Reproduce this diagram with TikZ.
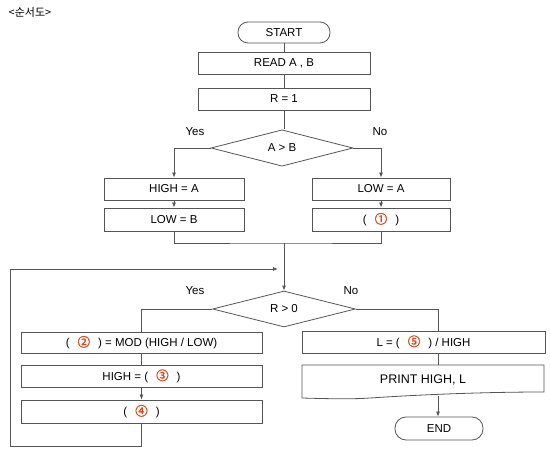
\documentclass[tikz,border=0pt]{standalone}
\usepackage{fontspec}
\setmainfont{Liberation Sans}
\newfontfamily\krfont{Noto Sans CJK KR}
\newfontfamily\numfont[AutoFakeBold=1.5]{Noto Sans CJK KR}
\usetikzlibrary{shapes.geometric,arrows.meta}
\definecolor{ln}{HTML}{555555}
\definecolor{num}{HTML}{E0461E}
\newcommand{\cnum}[1]{{\numfont\bfseries\fontsize{12.5}{13}\selectfont\color{num}#1}}
\tikzset{
  box/.style={draw=ln, line width=0.8pt, rectangle, inner sep=0pt, font=\fontsize{11.5}{13}\selectfont},
  term/.style={box, rounded corners=10pt},
  dec/.style={draw=ln, line width=0.8pt, diamond, inner sep=0pt, font=\fontsize{11.5}{13}\selectfont},
  lbl/.style={font=\fontsize{11.5}{13}\selectfont, inner sep=0pt},
  conn/.style={draw=ln, line width=0.8pt},
  arr/.style={conn, -{Latex[length=5pt,width=4pt]}}
}
\begin{document}
\begin{tikzpicture}[x=1pt,y=-1pt]
\useasboundingbox (0,0) rectangle (550,449);
\node[font=\krfont\fontsize{11}{12}\selectfont, inner sep=0pt] (title) at (30,12) {<순서도>};
\node[term, minimum width=92pt, minimum height=21pt] (start) at (284,32.5) {START};
\node[box, minimum width=172pt, minimum height=22pt] (read) at (284,63) {READ A , B};
\node[box, minimum width=172pt, minimum height=22pt] (r1) at (284,99) {R = 1};
\node[dec, minimum width=142pt, minimum height=35pt] (d1) at (282,148) {A > B};
\node[box, minimum width=140pt, minimum height=22pt] (higha) at (174,189) {HIGH = A};
\node[box, minimum width=140pt, minimum height=23pt] (lowb) at (174,219.5) {LOW = B};
\node[box, minimum width=138pt, minimum height=22pt] (lowa) at (381,189) {LOW = A};
\node[box, minimum width=138pt, minimum height=23pt] (c1) at (381,219.5) {(\hspace{8pt}\cnum{①}\hspace{8pt})};
\node[lbl] (yes1) at (195,132) {Yes};
\node[lbl] (no1) at (380,132) {No};
\node[dec, minimum width=143pt, minimum height=34pt] (d2) at (284,309) {R > 0};
\node[lbl] (yes2) at (195,291) {Yes};
\node[lbl] (no2) at (351,291) {No};
\node[box, minimum width=241pt, minimum height=21pt] (b2) at (141.5,342.5) {(\hspace{8pt}\cnum{②}\hspace{8pt}) = MOD (HIGH / LOW)};
\node[box, minimum width=241pt, minimum height=22pt] (b3) at (141.5,376) {HIGH = (\hspace{8pt}\cnum{③}\hspace{8pt})};
\node[box, minimum width=241pt, minimum height=23pt] (b4) at (141.5,411.5) {(\hspace{8pt}\cnum{④}\hspace{8pt})};
\node[box, minimum width=243pt, minimum height=22pt] (lbox) at (423.5,342) {L = (\hspace{8pt}\cnum{⑤}\hspace{8pt}) / HIGH};
\node[lbl, font=\fontsize{12.5}{14}\selectfont, minimum width=242pt, minimum height=30pt] (print) at (423,380) {PRINT HIGH, L};
\draw[conn] (302,365) -- (544,365) -- (544,392) .. controls (470,392) and (400,396) .. (370,398)
  .. controls (350,399.5) and (320,398.5) .. (302,398) -- cycle;
\node[term, minimum width=88pt, minimum height=23pt, rounded corners=11pt] (end) at (439,428.5) {END};
% connectors
\draw[conn] (start) -- (read);
\draw[conn] (read) -- (r1);
\draw[conn] (r1) -- (d1.north -| r1);
\draw[arr] (d1.west) -| (higha.north);
\draw[arr] (d1.east) -| (lowa.north);
\draw[arr] (higha) -- (lowb);
\draw[arr] (lowa) -- (c1);
\coordinate (m) at (284,243);
\draw[conn] (lowb.south) |- (m) -| (c1.south);
\draw[arr] (m) -- (d2.north);
\draw[conn] (d2.west) -| (b2.north);
\draw[conn] (b2) -- (b3);
\draw[arr] (b3) -- (b4);
\coordinate (loopb) at (141.5,446);
\coordinate (loopl) at (10,446);
\coordinate (loopt) at (10,269);
\coordinate (loopend) at (278,269);
\draw[conn, -{Latex[length=5pt,width=4pt]}] (b4.south) -- (loopb) -- (loopl) -- (loopt) -- (loopend);
\coordinate (rb) at (438,331);
\draw[conn] (d2.east) -| (rb);
\coordinate (pt) at (438,365);
\coordinate (pb) at (438,396);
\draw[conn] (lbox.south -| pt) -- (pt);
\draw[arr] (pb) -- (end.north -| pb);
\end{tikzpicture}
\end{document}
